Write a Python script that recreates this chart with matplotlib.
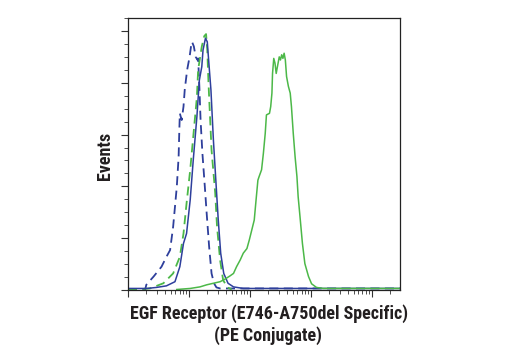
import matplotlib
matplotlib.use("Agg")
import matplotlib.pyplot as plt
from matplotlib.ticker import LogLocator, MultipleLocator, NullFormatter
import numpy as np

# fluorescence in log decades, events in arbitrary units
blue_dash_x = [0.0, 0.28, 0.30, 0.42, 0.55, 0.63, 0.69, 0.74, 0.80, 0.83, 0.84, 0.85, 0.88, 0.91,
               0.93, 0.97, 1.01, 1.04, 1.05, 1.08, 1.11, 1.14, 1.15, 1.17, 1.19, 1.22, 1.26,
               1.29, 1.33, 1.37, 1.41, 1.45, 1.51, 4.46]
blue_dash_y = [0.0, 0.0, 0.10, 0.26, 0.45, 0.64, 0.77, 1.22, 1.99, 2.57, 3.02, 3.41, 3.28, 3.54,
               3.86, 4.25, 4.50, 4.76, 4.79, 4.70, 4.50, 4.44, 4.47, 3.93, 3.28, 2.64, 1.99,
               1.48, 0.84, 0.32, 0.13, 0.05, 0.03, 0.03]

green_dash_x = [0.0, 0.36, 0.58, 0.74, 0.85, 0.91, 0.96, 1.02, 1.07, 1.13, 1.15, 1.21, 1.25, 1.28,
                1.30, 1.32, 1.34, 1.37, 1.43, 1.46, 1.51, 1.56, 1.63, 1.70]
green_dash_y = [0.0, 0.03, 0.13, 0.32, 0.64, 1.09, 1.67, 2.32, 2.96, 3.73, 4.25, 4.70, 4.90, 4.94,
                4.63, 3.99, 3.47, 2.70, 1.87, 1.22, 0.58, 0.19, 0.05, 0.01]

blue_x = [0.0, 0.31, 0.47, 0.63, 0.77, 0.85, 0.91, 0.96, 1.02, 1.07, 1.13, 1.17, 1.21, 1.23, 1.27,
          1.30, 1.32, 1.36, 1.40, 1.44, 1.48, 1.52, 1.57, 1.64, 1.73, 1.89, 4.46]
blue_y = [0.03, 0.03, 0.05, 0.08, 0.16, 0.45, 0.90, 1.09, 1.74, 2.51, 3.35, 4.05, 4.31, 4.63, 4.86,
          4.79, 4.47, 3.86, 2.90, 2.12, 1.35, 0.71, 0.32, 0.13, 0.06, 0.03, 0.03]

green_x = [0.80, 1.02, 1.18, 1.29, 1.40, 1.51, 1.59, 1.67, 1.73, 1.78, 1.84, 1.89, 1.95, 1.99, 2.03,
           2.07, 2.10, 2.13, 2.15, 2.19, 2.22, 2.25, 2.27, 2.32, 2.34, 2.36, 2.37, 2.39, 2.41,
           2.43, 2.45, 2.48, 2.50, 2.52, 2.54, 2.56, 2.58, 2.60, 2.63, 2.66, 2.68, 2.71, 2.74,
           2.77, 2.79, 2.82, 2.86, 2.90, 2.96, 3.01, 3.09, 3.20, 4.46]
green_y = [0.01, 0.03, 0.06, 0.10, 0.13, 0.16, 0.21, 0.27, 0.32, 0.45, 0.58, 0.71, 0.80, 0.97, 1.16,
           1.35, 1.74, 2.12, 2.19, 2.32, 2.64, 3.02, 3.38, 3.41, 3.54, 3.80, 4.18, 4.47, 4.38,
           4.18, 4.31, 4.50, 4.44, 4.54, 4.47, 4.57, 4.44, 4.12, 3.93, 3.80, 3.54, 3.02, 2.57,
           2.19, 1.80, 1.42, 0.90, 0.51, 0.26, 0.12, 0.05, 0.03, 0.03]

x_label = ["EGF Receptor (E746-A750del Specific)", "(PE Conjugate)"]
y_label = "Events"

BLUE = "#2e3f9c"
GREEN = "#4cb848"
FONT = ["Roboto Condensed", "DejaVu Sans"]
W, H = 520, 350

fig = plt.figure(figsize=(W / 100, H / 100), dpi=100)
ax = fig.add_axes([128 / W, 1 - 290 / H, 272 / W, 272 / H])

ax.plot(10 ** np.array(blue_dash_x), blue_dash_y, color=BLUE, lw=1.3, ls=(0, (5, 3)))
ax.plot(10 ** np.array(green_dash_x), green_dash_y, color=GREEN, lw=1.3, ls=(0, (5, 3)))
ax.plot(10 ** np.array(blue_x), blue_y, color=BLUE, lw=1.1)
ax.plot(10 ** np.array(green_x), green_y, color=GREEN, lw=1.1)

ax.set_xscale("log")
ax.set_xlim(1, 10 ** 4.46)
ax.set_ylim(0, 5.25)
ax.xaxis.set_major_locator(LogLocator(base=10, numticks=10))
ax.xaxis.set_minor_locator(LogLocator(base=10, subs=np.arange(2, 10), numticks=20))
ax.xaxis.set_major_formatter(NullFormatter())
ax.xaxis.set_minor_formatter(NullFormatter())
ax.yaxis.set_major_locator(MultipleLocator(1))
ax.yaxis.set_minor_locator(MultipleLocator(0.25))
ax.yaxis.set_major_formatter(NullFormatter())
ax.tick_params(which="major", direction="out", length=5, width=0.8, color="#333333")
ax.tick_params(which="minor", direction="out", length=3, width=0.6, color="#333333")
for s in ax.spines.values():
    s.set_linewidth(0.9)
    s.set_color("#222222")

# labels placed in pixel positions
fig.text(269 / W, 1 - 319 / H, x_label[0], family=FONT, fontweight="bold", fontsize=13,
         ha="center", va="baseline", color="#231f20")
fig.text(268 / W, 1 - 341 / H, x_label[1], family=FONT, fontweight="bold", fontsize=13,
         ha="center", va="baseline", color="#231f20")
fig.text(105 / W, 1 - 156 / H, y_label, family=FONT, fontweight="bold", fontsize=13,
         ha="center", va="center", rotation=90, color="#231f20")

fig.savefig("out.png", dpi=100)
